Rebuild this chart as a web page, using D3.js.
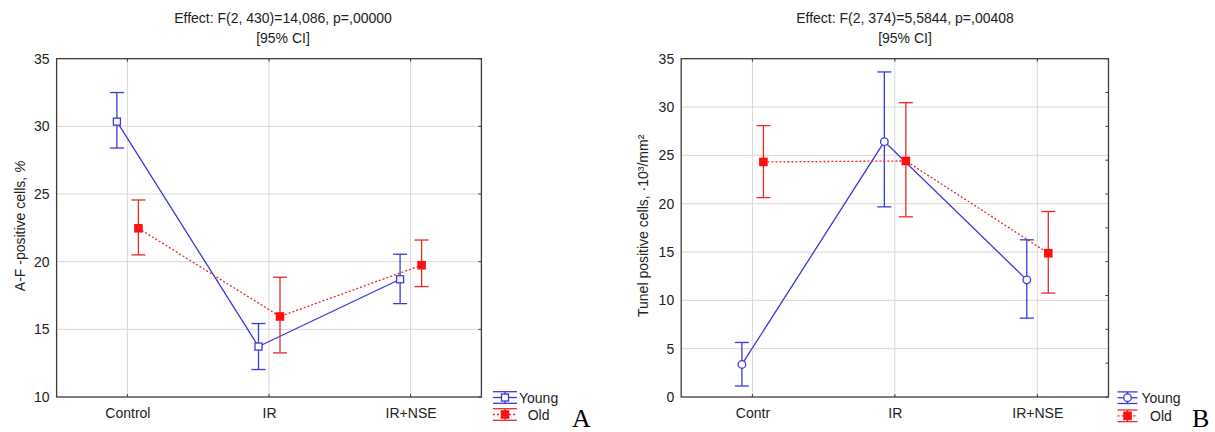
<!DOCTYPE html>
<html>
<head>
<meta charset="utf-8">
<script src="https://cdn.jsdelivr.net/npm/d3@7"></script>
<style>
  html, body { margin: 0; padding: 0; background: #fff; }
  svg { display: block; }
  text { font-family: "Liberation Sans", Arial, sans-serif; fill: #222; }
  text.panel-letter { font-family: "Liberation Serif", "Times New Roman", serif; fill: #000; }
</style>
</head>
<body>
<svg id="chart" width="1215" height="432"></svg>
<script>
// ---- Panel A: A-F positive cells, % ----
const categoriesA = ["Control", "IR", "IR+NSE"];
const youngMeanA = [30.35, 13.73, 18.7];
const youngLowA  = [28.4, 12.03, 16.9];
const youngHighA = [32.5, 15.43, 20.55];
const oldMeanA   = [22.47, 15.95, 19.74];
const oldLowA    = [20.5, 13.26, 18.16];
const oldHighA   = [24.56, 18.85, 21.6];
const yTicksA    = [10, 15, 20, 25, 30, 35];
const rightTicksA = [10, 15, 20, 25, 30, 35];
const titleA = ["Effect: F(2, 430)=14,086, p=,00000", "[95% CI]"];
const yLabelA = "A-F -positive cells, ";

// ---- Panel B: Tunel positive cells ----
const categoriesB = ["Contr", "IR", "IR+NSE"];
const youngMeanB = [3.37, 26.42, 12.12];
const youngLowB  = [1.14, 19.67, 8.16];
const youngHighB = [5.64, 33.63, 16.26];
const oldMeanB   = [24.32, 24.42, 14.88];
const oldLowB    = [20.63, 18.64, 10.75];
const oldHighB   = [28.08, 30.45, 19.19];
const yTicksB    = [0, 5, 10, 15, 20, 25, 30, 35];
const rightTicksB = [0, 3.5, 7, 10.5, 14, 17.5, 21, 24.5, 28, 31.5, 35];
const titleB = ["Effect: F(2, 374)=5,5844, p=,00408", "[95% CI]"];
const yLabelB = "Tunel positive cells, ·10³/mm²";

const seriesNames = ["Young", "Old"];

const BLUE = "#3a3ad8";
const RED = "#e62a2a";
const RED_FILL = "#ff1010";
const GRID = "#d8d8d8";
const FRAME = "#3c3c3c";

const svg = d3.select("#chart");

function drawPanel(cfg) {
  const g = svg.append("g");
  const { left, right, top, bottom } = cfg;

  const x = d3.scalePoint().domain(cfg.categories).range([left, right]).padding(0.5);
  const y = d3.scaleLinear().domain(cfg.yDomain).range([bottom, top]);

  // gridlines
  g.append("g").selectAll("line").data(cfg.yTicks.slice(1, -1)).join("line")
    .attr("x1", left).attr("x2", right)
    .attr("y1", d => y(d)).attr("y2", d => y(d))
    .attr("stroke", GRID).attr("stroke-width", 1);
  g.append("g").selectAll("line").data(cfg.categories).join("line")
    .attr("x1", d => x(d)).attr("x2", d => x(d))
    .attr("y1", top).attr("y2", bottom)
    .attr("stroke", GRID).attr("stroke-width", 1);

  // left axis labels
  const yAxis = d3.axisLeft(y).tickValues(cfg.yTicks).tickSize(0).tickPadding(7)
    .tickFormat(d3.format("d"));
  const ya = g.append("g").attr("transform", `translate(${left},0)`).call(yAxis);
  ya.select(".domain").remove();
  ya.selectAll("text").attr("font-size", 14).style("font-family", "Liberation Sans, Arial, sans-serif").attr("fill", "#222");

  // bottom axis labels
  const xAxis = d3.axisBottom(x).tickSize(0).tickPadding(11);
  const xa = g.append("g").attr("transform", `translate(0,${bottom})`).call(xAxis);
  xa.select(".domain").remove();
  xa.selectAll("text").attr("font-size", 14).style("font-family", "Liberation Sans, Arial, sans-serif").attr("fill", "#222");

  // inner tick marks on the frame
  const tickLen = 3;
  g.append("g").selectAll("line").data(cfg.categories).join("line")
    .attr("x1", d => x(d)).attr("x2", d => x(d))
    .attr("y1", top).attr("y2", top + tickLen)
    .attr("stroke", FRAME).attr("stroke-width", 1);
  g.append("g").selectAll("line").data(cfg.categories).join("line")
    .attr("x1", d => x(d)).attr("x2", d => x(d))
    .attr("y1", bottom).attr("y2", bottom - tickLen)
    .attr("stroke", FRAME).attr("stroke-width", 1);
  g.append("g").selectAll("line").data(cfg.rightTicks).join("line")
    .attr("x1", right).attr("x2", right - tickLen)
    .attr("y1", d => y(d)).attr("y2", d => y(d))
    .attr("stroke", FRAME).attr("stroke-width", 1);

  // series
  const series = [
    { name: "Young", mean: cfg.youngMean, lo: cfg.youngLow, hi: cfg.youngHigh, color: BLUE, dash: null, off: -10.5, marker: cfg.youngMarker },
    { name: "Old", mean: cfg.oldMean, lo: cfg.oldLow, hi: cfg.oldHigh, color: RED, dash: "2,2", off: 11, marker: "filledSquare" }
  ];
  const cap = 7;

  series.forEach(s => {
    const pts = cfg.categories.map((c, i) => ({ c, m: s.mean[i], lo: s.lo[i], hi: s.hi[i] }));
    const px = d => x(d.c) + s.off;
    const line = d3.line().x(px).y(d => y(d.m));
    g.append("path").datum(pts).attr("d", line)
      .attr("fill", "none").attr("stroke", s.color).attr("stroke-width", 1.3)
      .attr("stroke-dasharray", s.dash);

    const eb = g.append("g").attr("stroke", s.color).attr("stroke-width", 1.3);
    eb.selectAll(".whisker").data(pts).join("line")
      .attr("x1", px).attr("x2", px)
      .attr("y1", d => y(d.lo)).attr("y2", d => y(d.hi));
    eb.selectAll(".capHi").data(pts).join("line")
      .attr("x1", d => px(d) - cap).attr("x2", d => px(d) + cap)
      .attr("y1", d => y(d.hi)).attr("y2", d => y(d.hi));
    eb.selectAll(".capLo").data(pts).join("line")
      .attr("x1", d => px(d) - cap).attr("x2", d => px(d) + cap)
      .attr("y1", d => y(d.lo)).attr("y2", d => y(d.lo));

    pts.forEach(d => drawMarker(g, s.marker, px(d), y(d.m), s.color));
  });

  // frame
  g.append("rect").attr("x", left).attr("y", top)
    .attr("width", right - left).attr("height", bottom - top)
    .attr("fill", "none").attr("stroke", FRAME).attr("stroke-width", 1.3);

  // title
  cfg.title.forEach((t, i) => {
    g.append("text").attr("x", cfg.titleX).attr("y", 23 + i * 19.5)
      .attr("text-anchor", "middle").attr("font-size", 14).text(t);
  });

  // y label
  const yl = g.append("text")
    .attr("transform", `translate(${cfg.yLabelX},${(top + bottom) / 2 - 2}) rotate(-90)`)
    .attr("text-anchor", "middle").attr("font-size", 14);
  yl.append("tspan").text(cfg.yLabel);
  if (cfg.yLabelTail) yl.append("tspan").attr("font-style", "italic").text(cfg.yLabelTail);

  // legend
  const lg = g.append("g");
  const legendRows = [
    { name: seriesNames[0], color: BLUE, dash: null, marker: cfg.youngMarker, cy: cfg.legendY[0] },
    { name: seriesNames[1], color: RED, dash: "2,2", marker: "filledSquare", cy: cfg.legendY[1] }
  ];
  legendRows.forEach(r => {
    const x0 = cfg.legendX, x1 = cfg.legendX + cfg.legendW, xm = (x0 + x1) / 2;
    const h = 5.8;
    lg.append("line").attr("x1", x0).attr("x2", x1).attr("y1", r.cy - h).attr("y2", r.cy - h)
      .attr("stroke", r.color).attr("stroke-width", 1.3);
    lg.append("line").attr("x1", x0).attr("x2", x1).attr("y1", r.cy + h).attr("y2", r.cy + h)
      .attr("stroke", r.color).attr("stroke-width", 1.3);
    lg.append("line").attr("x1", x0).attr("x2", x1).attr("y1", r.cy).attr("y2", r.cy)
      .attr("stroke", r.color).attr("stroke-width", 1.3).attr("stroke-dasharray", r.dash);
    lg.append("line").attr("x1", xm).attr("x2", xm).attr("y1", r.cy - h).attr("y2", r.cy + h)
      .attr("stroke", r.color).attr("stroke-width", 1.3);
    drawMarker(lg, r.marker, xm, r.cy, r.color);
    lg.append("text").attr("x", cfg.legendTextX).attr("y", r.cy + 5)
      .attr("text-anchor", "middle").attr("font-size", 14).text(r.name);
  });

  // panel letter
  g.append("text").attr("class", "panel-letter")
    .attr("x", cfg.letterX).attr("y", 427)
    .attr("font-size", 26).text(cfg.letter);
}

function drawMarker(g, type, cx, cy, color) {
  if (type === "openSquare") {
    g.append("rect").attr("x", cx - 3.5).attr("y", cy - 3.5).attr("width", 7).attr("height", 7)
      .attr("fill", "#fff").attr("stroke", color).attr("stroke-width", 1.3);
  } else if (type === "openCircle") {
    g.append("circle").attr("cx", cx).attr("cy", cy).attr("r", 3.8)
      .attr("fill", "#fff").attr("stroke", color).attr("stroke-width", 1.3);
  } else {
    g.append("rect").attr("x", cx - 4.3).attr("y", cy - 4.3).attr("width", 8.6).attr("height", 8.6)
      .attr("fill", RED_FILL).attr("stroke", "none");
  }
}

drawPanel({
  categories: categoriesA, yDomain: [10, 35], yTicks: yTicksA, rightTicks: rightTicksA,
  left: 56.6, right: 481.4, top: 58.7, bottom: 397,
  youngMean: youngMeanA, youngLow: youngLowA, youngHigh: youngHighA,
  oldMean: oldMeanA, oldLow: oldLowA, oldHigh: oldHighA,
  youngMarker: "openSquare",
  title: titleA, titleX: 283,
  yLabel: yLabelA, yLabelTail: "%", yLabelX: 25,
  legendX: 493, legendW: 24, legendTextX: 538.6, legendY: [397.5, 414.5],
  letter: "A", letterX: 572
});

drawPanel({
  categories: categoriesB, yDomain: [0, 35], yTicks: yTicksB, rightTicks: rightTicksB,
  left: 681.2, right: 1108.5, top: 58.7, bottom: 397,
  youngMean: youngMeanB, youngLow: youngLowB, youngHigh: youngHighB,
  oldMean: oldMeanB, oldLow: oldLowB, oldHigh: oldHighB,
  youngMarker: "openCircle",
  title: titleB, titleX: 905,
  yLabel: yLabelB, yLabelTail: null, yLabelX: 648,
  legendX: 1117.5, legendW: 20, legendTextX: 1161, legendY: [397.7, 415.8],
  letter: "B", letterX: 1192
});
</script>
</body>
</html>
